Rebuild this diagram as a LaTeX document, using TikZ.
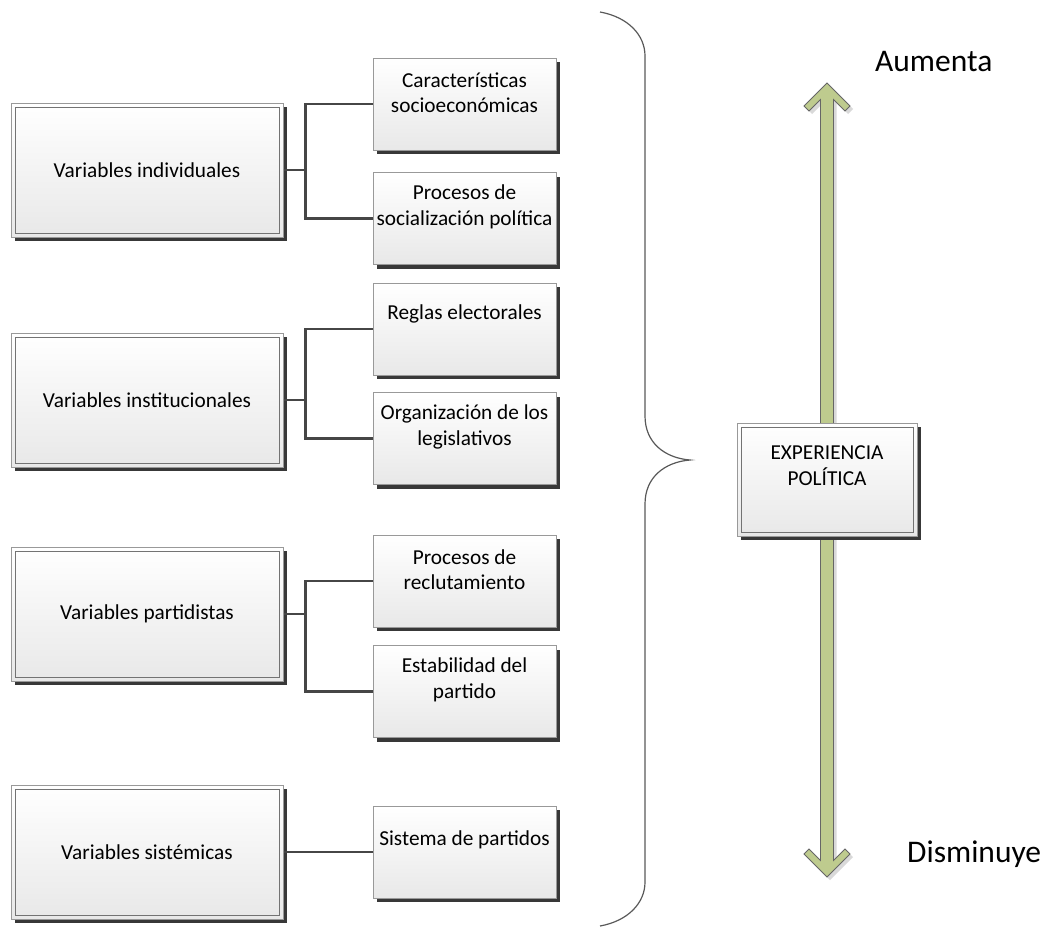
\documentclass[tikz,border=0pt]{standalone}
\usepackage{fontspec}
\setmainfont{Carlito}
\usetikzlibrary{positioning,shadows}

\definecolor{arrowgreen}{RGB}{190,203,142}
\definecolor{linegray}{RGB}{70,70,70}

\tikzset{
  box/.style={rectangle, draw=black!40, line width=1pt, top color=white, bottom color=black!9,
    drop shadow={shadow xshift=4pt, shadow yshift=-4pt, fill=black!78, opacity=1},
    font=\fontsize{21.3}{25.5}\selectfont, align=center},
  innerframe/.style={path picture={\draw[black!55, line width=1pt]
    ([shift={(4pt,-4pt)}]path picture bounding box.north west) rectangle
    ([shift={(-4pt,4pt)}]path picture bounding box.south east);}},
  leftbox/.style={box, innerframe, minimum width=272pt, minimum height=134pt},
  rightbox/.style={box, minimum width=183pt, minimum height=92pt},
  expbox/.style={box, innerframe, minimum width=180pt, minimum height=113pt},
  boxtext/.style={font=\fontsize{21.3}{25.5}\selectfont, align=center, inner sep=0pt},
  conn/.style={draw=linegray, line width=2.6pt},
  brace/.style={draw=black!65, line width=1.2pt},
  greenarrow/.style={fill=arrowgreen, draw=black!60, line width=0.8pt,
    drop shadow={shadow xshift=3pt, shadow yshift=-3pt, fill=black!15, opacity=1}},
  bigtext/.style={font=\fontsize{31.5}{36}\selectfont, inner sep=0pt}
}

\begin{document}
\begin{tikzpicture}[x=1pt, y=-1pt]
  \useasboundingbox (0,0) rectangle (1043,937);

  % brace
  \draw[brace] (600,12) .. controls (628,17) and (645,35) .. (645,56)
    -- (645,416) .. controls (645,443) and (665,458) .. (690,460)
    .. controls (665,462) and (645,477) .. (645,504)
    -- (645,882) .. controls (645,903) and (628,921) .. (600,926);

  % arrow
  \coordinate (up) at (827,83);
  \coordinate (down) at (827,877);
  \path[greenarrow] (up) -- (804,106) -- (809,111) -- (820.5,99.5) -- (820.5,860.5)
    -- (809,849) -- (804,854) -- (down) -- (850,854) -- (845,849) -- (833.5,860.5)
    -- (833.5,99.5) -- (845,111) -- (850,106) -- cycle;

  \node[bigtext, anchor=base west] (aum) at (875,71) {Aumenta};
  \node[bigtext, anchor=base west] (dis) at (907,862) {Disminuye};

  \node[expbox] (exp) at (827,479.5) {};
  \node[boxtext] (exp-t) at ([yshift=-43pt]exp.north) {EXPERIENCIA\\POLÍTICA};

  % left column
  \node[leftbox] (vind) at (147,170) {Variables individuales};
  \node[leftbox] (vins) at (147,400) {Variables institucionales};
  \node[leftbox] (vpar) at (147,614) {Variables partidistas};
  \node[leftbox] (vsis) at (147,852) {Variables sistémicas};

  % right column
  \node[rightbox] (rsoc) at (464.5,104) {};
  \node[rightbox] (rpol) at (464.5,218.5) {};
  \node[rightbox] (rreg) at (464.5,329) {};
  \node[rightbox] (rorg) at (464.5,438.5) {};
  \node[rightbox] (rrec) at (464.5,581) {};
  \node[rightbox] (rest) at (464.5,691.5) {};
  \node[rightbox] (rsis) at (464.5,852) {};

  \node[boxtext] (rsoc-t) at ([yshift=-35pt]rsoc.north) {Características\\socioeconómicas};
  \node[boxtext] (rpol-t) at ([yshift=-35pt]rpol.north) {Procesos de\\socialización política};
  \node[boxtext] (rreg-t) at ([yshift=-31pt]rreg.north) {Reglas electorales};
  \node[boxtext] (rorg-t) at ([yshift=-35pt]rorg.north) {Organización de los\\legislativos};
  \node[boxtext] (rrec-t) at ([yshift=-35pt]rrec.north) {Procesos de\\reclutamiento};
  \node[boxtext] (rest-t) at ([yshift=-35pt]rest.north) {Estabilidad del\\partido};
  \node[boxtext] (rsis-t) at ([yshift=-34pt]rsis.north) {Sistema de partidos};

  % connectors
  \draw[conn] (vind.east) -- ++(22,0) coordinate (j1) |- (rsoc.west);
  \draw[conn] (j1) |- (rpol.west);
  \draw[conn] (vins.east) -- ++(22,0) coordinate (j2) |- (rreg.west);
  \draw[conn] (j2) |- (rorg.west);
  \draw[conn] (vpar.east) -- ++(22,0) coordinate (j3) |- (rrec.west);
  \draw[conn] (j3) |- (rest.west);
  \draw[conn] (vsis.east) -- (rsis.west);

\end{tikzpicture}
\end{document}
